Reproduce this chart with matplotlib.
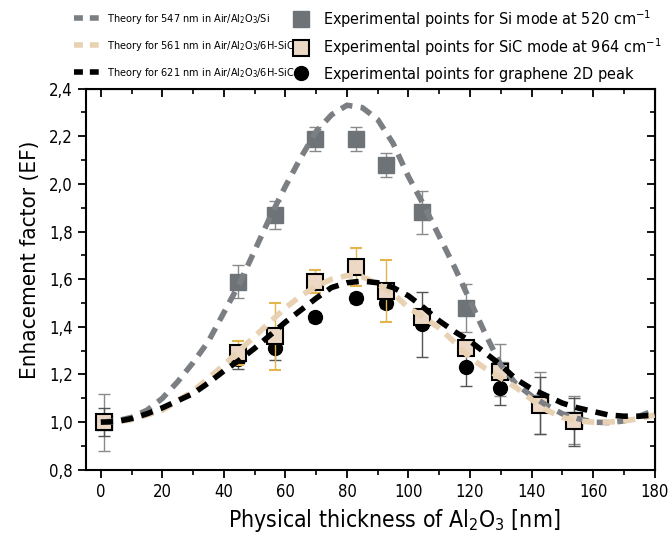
import numpy as np
import matplotlib
matplotlib.use('Agg')
import matplotlib.pyplot as plt
from matplotlib.lines import Line2D
from matplotlib.ticker import MultipleLocator, FuncFormatter
from matplotlib import font_manager

# pick a narrow font if one is installed
fonts = font_manager.fontManager.ttflist
names = {f.name for f in fonts}
stretch = 'normal'
if 'Liberation Sans Narrow' in names:
    fam = 'Liberation Sans Narrow'
elif any(f.name == 'DejaVu Sans' and f.stretch in ('condensed', 'semi-condensed') for f in fonts):
    fam = 'DejaVu Sans'
    stretch = 'condensed'
elif 'Roboto Condensed' in names:
    fam = 'Roboto Condensed'
else:
    fam = 'Roboto'
plt.rcParams['font.family'] = [fam, 'DejaVu Sans']
plt.rcParams['font.stretch'] = stretch
plt.rcParams['mathtext.default'] = 'regular'

# theory curves (read every 5 nm)
t_x = np.arange(0, 181, 5)
theo_si = [1.00, 1.005, 1.02, 1.05, 1.10, 1.17, 1.25, 1.34, 1.46, 1.58, 1.72, 1.86,
           1.99, 2.11, 2.22, 2.29, 2.33, 2.32, 2.27, 2.17, 2.03, 1.91, 1.78, 1.65,
           1.51, 1.37, 1.24, 1.16, 1.11, 1.07, 1.035, 1.015, 1.00, 0.998, 1.005, 1.025, 1.05]
theo_sic = [1.00, 1.002, 1.01, 1.03, 1.05, 1.09, 1.13, 1.185, 1.24, 1.30, 1.36, 1.42,
            1.48, 1.53, 1.57, 1.60, 1.615, 1.61, 1.58, 1.54, 1.48, 1.44, 1.395, 1.335,
            1.27, 1.225, 1.185, 1.145, 1.095, 1.05, 1.02, 1.005, 1.00, 1.00, 1.005, 1.015, 1.03]
theo_gr = [1.00, 1.002, 1.015, 1.035, 1.06, 1.09, 1.12, 1.165, 1.215, 1.26, 1.31, 1.365,
           1.42, 1.47, 1.52, 1.565, 1.585, 1.592, 1.585, 1.565, 1.53, 1.48, 1.425, 1.38,
           1.34, 1.29, 1.24, 1.18, 1.14, 1.11, 1.08, 1.06, 1.045, 1.03, 1.025, 1.025, 1.03]

# experimental points
exp_x = [1, 44.5, 56.6, 69.7, 82.9, 92.8, 104.4, 118.7, 129.7, 142.6, 153.9]
si_y = [1.00, 1.59, 1.87, 2.19, 2.19, 2.08, 1.88, 1.48, 1.22, 1.08, 1.01]
si_err = [0.12, 0.07, 0.06, 0.05, 0.05, 0.05, 0.09, 0.10, 0.11, 0.13, 0.10]
sic_y = [1.00, 1.29, 1.36, 1.59, 1.65, 1.55, 1.44, 1.31, 1.21, 1.07, 1.005]
sic_err = [0.03, 0.05, 0.14, 0.05, 0.08, 0.13, 0.02, 0.02, 0.02, 0.02, 0.02]
gr_y = [1.00, 1.265, 1.31, 1.44, 1.52, 1.50, 1.41, 1.23, 1.145, 1.07, 1.00]
gr_err = [0.06, 0.04, 0.05, 0.02, 0.02, 0.02, 0.135, 0.08, 0.075, 0.12, 0.10]

c_si = '#6e7378'
c_si_line = '#7b7f83'
c_sic = '#ecd8c4'
c_sic_line = '#e9d1b3'
c_sic_err = '#e3b54a'
dash = (2.2, 1.5)
leg_dash = (1.6, 1.25)

fig = plt.figure(figsize=(6.7, 5.4), dpi=100)
ax = fig.add_axes([0.128, 0.130, 0.849, 0.706])

ax.errorbar(exp_x, si_y, yerr=si_err, fmt='s', ms=11, color=c_si, mfc=c_si, mec=c_si,
            ecolor='#8a8a8a', elinewidth=1, capsize=4, zorder=3)
ax.errorbar(exp_x, gr_y, yerr=gr_err, fmt='o', ms=10, color='black', mfc='black', mec='black',
            ecolor='#555555', elinewidth=1, capsize=4, zorder=4)
ax.errorbar(exp_x, sic_y, yerr=sic_err, fmt='s', ms=11, color=c_sic, mfc=c_sic, mec='black',
            mew=1.5, ecolor=c_sic_err, elinewidth=1, capsize=4, zorder=5)

ax.plot(t_x, theo_si, color=c_si_line, lw=4, dashes=dash, zorder=6)
ax.plot(t_x, theo_sic, color=c_sic_line, lw=4, dashes=dash, zorder=6)
ax.plot(t_x, theo_gr, color='black', lw=4, dashes=dash, zorder=7)

ax.set_xlim(-4.9, 180)
ax.set_ylim(0.8, 2.4)
ax.xaxis.set_major_locator(MultipleLocator(20))
ax.xaxis.set_minor_locator(MultipleLocator(10))
ax.yaxis.set_major_locator(MultipleLocator(0.2))
ax.yaxis.set_minor_locator(MultipleLocator(0.1))
ax.yaxis.set_major_formatter(FuncFormatter(lambda v, p: f'{v:.1f}'.replace('.', ',')))
ax.tick_params(which='major', direction='out', length=6, width=1.3, labelsize=12)
ax.tick_params(which='minor', direction='out', length=3.5, width=1.2)
for s in ax.spines.values():
    s.set_linewidth(1.5)

top = ax.secondary_xaxis('top')
top.xaxis.set_major_locator(MultipleLocator(20))
top.xaxis.set_minor_locator(MultipleLocator(10))
top.tick_params(which='major', direction='in', length=6, width=1.3, labeltop=False)
top.tick_params(which='minor', direction='in', length=3.5, width=1.2)
right = ax.secondary_yaxis('right')
right.yaxis.set_major_locator(MultipleLocator(0.2))
right.yaxis.set_minor_locator(MultipleLocator(0.1))
right.tick_params(which='major', direction='in', length=6, width=1.3, labelright=False)
right.tick_params(which='minor', direction='in', length=3.5, width=1.2)

ax.set_xlabel('Physical thickness of Al$_2$O$_3$ [nm]', fontsize=16.5, labelpad=4, x=0.542)
ax.set_ylabel('Enhacement factor (EF)', fontsize=16, labelpad=6, y=0.55)

h1 = [Line2D([], [], color=c_si_line, lw=4, dashes=leg_dash),
      Line2D([], [], color=c_sic_line, lw=4, dashes=leg_dash),
      Line2D([], [], color='black', lw=4, dashes=leg_dash)]
l1 = ['Theory for 547 nm in Air/Al$_2$O$_3$/Si',
      'Theory for 561 nm in Air/Al$_2$O$_3$/6H-SiC',
      'Theory for 621 nm in Air/Al$_2$O$_3$/6H-SiC']
fig.legend(h1, l1, loc='upper left', bbox_to_anchor=(0.096, 0.996), frameon=False,
           fontsize=7.8, labelspacing=1.2, handlelength=2.3, handletextpad=0.7)

h2 = [Line2D([], [], ls='none', marker='s', ms=11, color=c_si),
      Line2D([], [], ls='none', marker='s', ms=11, mfc=c_sic, mec='black', mew=1.5),
      Line2D([], [], ls='none', marker='o', ms=10, color='black')]
l2 = ['Experimental points for Si mode at 520 cm$^{-1}$',
      'Experimental points for SiC mode at 964 cm$^{-1}$',
      'Experimental points for graphene 2D peak$^{\\,}$']
fig.legend(h2, l2, loc='upper left', bbox_to_anchor=(0.4155, 1.012), frameon=False,
           fontsize=11.6, labelspacing=0.42, handlelength=1.0, handletextpad=0.9)

fig.savefig('out.png', dpi=100)
